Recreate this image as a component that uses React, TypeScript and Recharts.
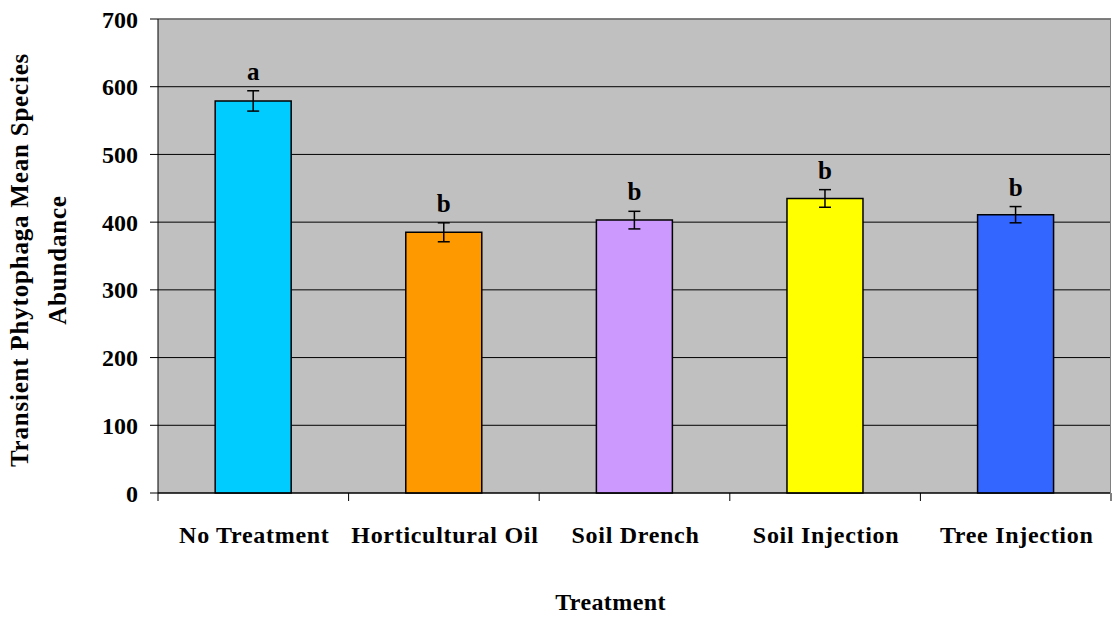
import React from "react";
import {
  BarChart,
  Bar,
  Cell,
  XAxis,
  YAxis,
  CartesianGrid,
  ErrorBar,
  LabelList,
  Label,
  ReferenceLine,
} from "recharts";

const treatments = [
  "No Treatment",
  "Horticultural Oil",
  "Soil Drench",
  "Soil Injection",
  "Tree Injection",
];
const meanAbundance = [579, 385, 403, 435, 411];
const stdError = [15, 14, 13, 13, 12];
const groupLetters = ["a", "b", "b", "b", "b"];
const barColors = ["#00CCFF", "#FF9900", "#CC99FF", "#FFFF00", "#3366FF"];
const yTicks = [0, 100, 200, 300, 400, 500, 600, 700];

const data = treatments.map((name, i) => ({
  name,
  mean: meanAbundance[i],
  err: stdError[i],
  letter: groupLetters[i],
}));

const FONT = "'Liberation Serif', 'Times New Roman', serif";

// category label plus tick marks on the category boundaries
const CategoryTick = (props: any) => {
  const { x, y, payload, index, width, visibleTicksCount } = props;
  const half =
    payload && payload.offset ? payload.offset : width / (2 * (visibleTicksCount || 5));
  return (
    <g>
      <line x1={x - half} x2={x - half} y1={y} y2={y + 8} stroke="#000" />
      {index === visibleTicksCount - 1 && (
        <line x1={x + half} x2={x + half} y1={y} y2={y + 8} stroke="#000" />
      )}
      <text
        x={x + 1}
        y={y + 50}
        textAnchor="middle"
        fontFamily={FONT}
        fontWeight="bold"
        fontSize={24}
        letterSpacing={0.7}
        fill="#000"
      >
        {payload.value}
      </text>
    </g>
  );
};

const LetterLabel = (props: any) => {
  const { x, y, width, height, value, index } = props;
  const pxPerUnit = height / meanAbundance[index];
  const errTop = y - stdError[index] * pxPerUnit;
  return (
    <text
      x={x + width / 2}
      y={errTop - 11}
      textAnchor="middle"
      fontFamily={FONT}
      fontWeight="bold"
      fontSize={25}
      fill="#000"
    >
      {value}
    </text>
  );
};

const YTitle = (props: any) => {
  const vb = props.viewBox || {};
  const cy = vb.y + vb.height / 2 + 4;
  const x1 = 19;
  const x2 = 57;
  const style = { fontFamily: FONT, fontWeight: "bold" as const, fontSize: 25, letterSpacing: 0.8 };
  return (
    <g>
      <text
        x={x1}
        y={cy}
        transform={`rotate(-90, ${x1}, ${cy})`}
        textAnchor="middle"
        dominantBaseline="central"
        fill="#000"
        style={style}
      >
        Transient Phytophaga Mean Species
      </text>
      <text
        x={x2}
        y={cy}
        transform={`rotate(-90, ${x2}, ${cy})`}
        textAnchor="middle"
        dominantBaseline="central"
        fill="#000"
        style={style}
      >
        Abundance
      </text>
    </g>
  );
};

const XTitle = (props: any) => {
  const vb = props.viewBox || {};
  return (
    <text
      x={vb.x + vb.width / 2 - 24}
      y={vb.y + 117}
      textAnchor="middle"
      fontFamily={FONT}
      fontWeight="bold"
      fontSize={24}
      letterSpacing={0.4}
      fill="#000"
    >
      Treatment
    </text>
  );
};

export default function App() {
  return (
    <div style={{ position: "absolute", left: 0, top: 0, background: "#fff" }}>
      <BarChart
        width={1113}
        height={617}
        data={data}
        margin={{ top: 19, right: 2, bottom: 0, left: 0 }}
        barCategoryGap="30%"
      >
        <CartesianGrid
          vertical={false}
          stroke="#000"
          fill="#C0C0C0"
          fillOpacity={1}
        />
        <ReferenceLine y={700} stroke="#808080" strokeWidth={1.5} />
        <XAxis
          dataKey="name"
          height={124}
          axisLine={{ stroke: "#000" }}
          tickLine={false}
          tickSize={0}
          tickMargin={0}
          interval={0}
          tick={<CategoryTick />}
        >
          <Label content={<XTitle />} />
        </XAxis>
        <YAxis
          width={158}
          domain={[0, 700]}
          ticks={yTicks}
          interval={0}
          axisLine={{ stroke: "#000" }}
          tickLine={{ stroke: "#000" }}
          tickSize={8}
          tickMargin={12}
          tick={{
            fill: "#000",
            fontFamily: FONT,
            fontWeight: "bold",
            fontSize: 24,
          }}
        >
          <Label content={<YTitle />} />
        </YAxis>
        <Bar dataKey="mean" stroke="#000" strokeWidth={1.5} isAnimationActive={false}>
          {data.map((d, i) => (
            <Cell key={d.name} fill={barColors[i]} />
          ))}
          <ErrorBar
            dataKey="err"
            width={6}
            stroke="#000"
            strokeWidth={1.5}
            direction="y"
            isAnimationActive={false}
          />
          <LabelList dataKey="letter" content={<LetterLabel />} />
        </Bar>
      </BarChart>
      <div
        style={{
          position: "absolute",
          left: 1110,
          top: 19,
          width: 1,
          height: 475,
          background: "#808080",
        }}
      />
    </div>
  );
}
